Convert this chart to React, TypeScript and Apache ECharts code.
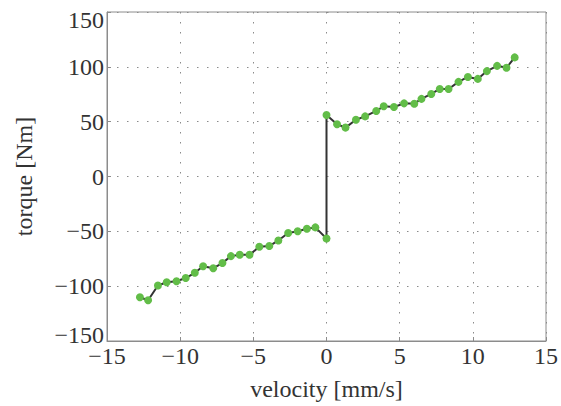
import React, { useEffect, useRef } from "react";
import * as echarts from "echarts";

const negVelocity = [-12.75, -12.19, -11.52, -10.92, -10.25, -9.62, -9.0, -8.43, -7.74, -7.11, -6.53, -5.93, -5.26, -4.59, -3.91, -3.29, -2.62, -1.97, -1.34, -0.76, 0.0];
const negTorque = [-110.1, -112.8, -99.4, -96.4, -95.5, -92.6, -87.8, -81.8, -83.6, -78.9, -72.6, -71.4, -71.4, -64.0, -63.4, -58.3, -51.5, -50.0, -47.6, -46.4, -56.5];
const posVelocity = [0.0, 0.72, 1.3, 2.01, 2.64, 3.4, 3.91, 4.61, 5.3, 6.0, 6.49, 7.16, 7.74, 8.34, 9.02, 9.66, 10.34, 10.96, 11.66, 12.3, 12.86];
const posTorque = [56.0, 47.6, 44.6, 51.8, 54.8, 59.8, 64.0, 63.4, 66.7, 66.4, 70.8, 75.3, 79.8, 79.8, 86.3, 90.8, 89.0, 96.1, 100.9, 99.1, 108.6];

const xTicks = [-15, -10, -5, 0, 5, 10, 15];
const yTicks = [-150, -100, -50, 0, 50, 100, 150];

const FONT = "Liberation Serif";

function fmt(v: number) {
  return v < 0 ? "\u2212" + Math.abs(v) : String(v);
}

export default function App() {
  const ref = useRef<HTMLDivElement>(null);
  useEffect(() => {
    if (!ref.current) return;
    const chart = echarts.init(ref.current, null, { renderer: "svg" });
    const data: number[][] = [];
    negVelocity.forEach((v, i) => data.push([v, negTorque[i]]));
    posVelocity.forEach((v, i) => data.push([v, posTorque[i]]));
    const gridLine = { show: true, lineStyle: { color: "#8a8a8a", type: [1.5, 8.5] as any, width: 1 } };
    const labelStyle = { fontFamily: FONT, fontSize: 24, color: "#333", fontWeight: "normal" as const };
    chart.setOption({
      animation: false,
      backgroundColor: "#ffffff",
      textStyle: { fontFamily: FONT },
      grid: {
        left: 107,
        right: 8,
        top: 12,
        bottom: 59,
        show: true,
        borderColor: "#8c8c8c",
        borderWidth: 1,
        containLabel: false,
      },
      xAxis: {
        type: "value",
        min: xTicks[0],
        max: xTicks[xTicks.length - 1],
        interval: 5,
        name: "velocity [mm/s]",
        nameLocation: "middle",
        nameGap: 36,
        nameTextStyle: labelStyle,
        axisLine: { show: true, onZero: false, lineStyle: { color: "#8c8c8c" } },
        axisTick: { show: true, inside: true, length: 4, lineStyle: { color: "#8c8c8c" } },
        axisLabel: {
          fontFamily: FONT,
          fontSize: 24,
          color: "#333",
          margin: 3,
          textStyle: { fontFamily: FONT, fontSize: 24 },
          formatter: (v: number) => fmt(v),
        },
        splitLine: gridLine,
      },
      yAxis: {
        type: "value",
        min: yTicks[0],
        max: yTicks[yTicks.length - 1],
        interval: 50,
        name: "torque [Nm]",
        nameLocation: "middle",
        nameGap: 71,
        nameTextStyle: labelStyle,
        axisLine: { show: true, onZero: false, lineStyle: { color: "#8c8c8c" } },
        axisTick: { show: true, inside: true, length: 4, lineStyle: { color: "#8c8c8c" } },
        axisLabel: {
          fontFamily: FONT,
          fontSize: 24,
          color: "#333",
          margin: 3,
          formatter: (v: number) => {
            if (v === 150) return "{t|150}";
            if (v === -150) return "{b|" + fmt(v) + "}";
            return "{n|" + fmt(v) + "}";
          },
          rich: {
            n: { ...labelStyle },
            t: { ...labelStyle, padding: [16, 0, 0, 0] },
            b: { ...labelStyle, padding: [0, 0, 12, 0] },
          },
        },
        splitLine: gridLine,
      },
      series: [
        {
          type: "line",
          data,
          lineStyle: { color: "#333333", width: 2 },
          symbol: "circle",
          symbolSize: 8,
          itemStyle: { color: "#62bd48", borderWidth: 0 },
          z: 3,
        },
      ],
    });
    return () => chart.dispose();
  }, []);
  return <div ref={ref} style={{ width: 561, height: 406, position: "absolute", left: 0, top: 0 }} />;
}
